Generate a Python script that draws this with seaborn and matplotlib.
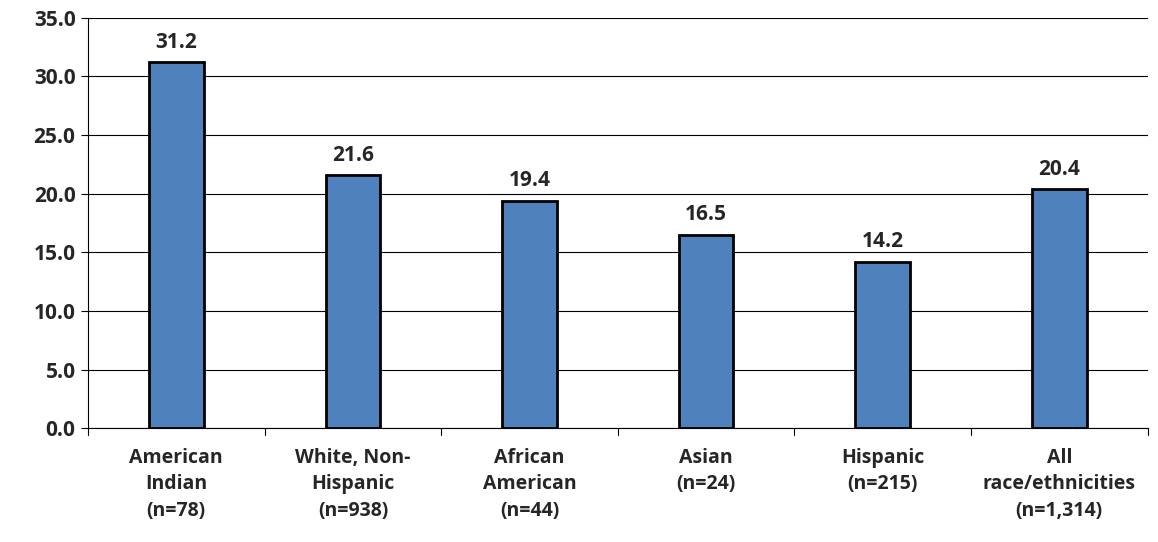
import matplotlib
matplotlib.use("Agg")
import matplotlib.pyplot as plt
import seaborn as sns
import pandas as pd

categories = ["American\nIndian\n(n=78)", "White, Non-\nHispanic\n(n=938)", "African\nAmerican\n(n=44)",
              "Asian\n(n=24)", "Hispanic\n(n=215)", "All\nrace/ethnicities\n(n=1,314)"]
values = [31.2, 21.6, 19.4, 16.5, 14.2, 20.4]
yticks = [0, 5, 10, 15, 20, 25, 30, 35]

sns.set_style("white")
plt.rcParams['font.family'] = ['Open Sans', 'DejaVu Sans']
fig = plt.figure(figsize=(11.58, 5.42), dpi=100)
ax = fig.add_axes([0.076, 0.21, 0.915, 0.757])
df = pd.DataFrame({"cat": categories, "val": values})
sns.barplot(data=df, x="cat", y="val", color="#4F81BD", saturation=1, width=0.31,
            edgecolor="black", linewidth=2, ax=ax, zorder=3)
ax.set_ylim(0, 35)
ax.set_xlim(-0.5, 5.5)
ax.set_yticks(yticks)
ax.set_yticklabels([f"{v:.1f}" for v in yticks], fontsize=15, fontweight="bold")
ax.yaxis.grid(True, color="black", linewidth=0.8, zorder=0)
ax.set_axisbelow(True)
ax.set_xticks(range(6))
ax.set_xticklabels(categories, fontsize=14, fontweight="bold", linespacing=1.45)
ax.tick_params(axis="x", length=0, pad=14)
for b in [i + 0.5 for i in range(-1, 6)]:
    ax.plot([b, b], [0, -0.6], color="black", lw=0.8, clip_on=False)
ax.tick_params(axis="y", length=5, direction="out", left=True, color="black", pad=4)
ax.set_xlabel(""); ax.set_ylabel("")
for s in ["top", "right"]:
    ax.spines[s].set_visible(False)
for s in ["left", "bottom"]:
    ax.spines[s].set_color("black"); ax.spines[s].set_linewidth(0.8)
for i, v in enumerate(values):
    ax.text(i, v + 0.8, f"{v:.1f}", ha="center", va="bottom", fontsize=15, fontweight="bold")
fig.savefig("out.png", dpi=100)
